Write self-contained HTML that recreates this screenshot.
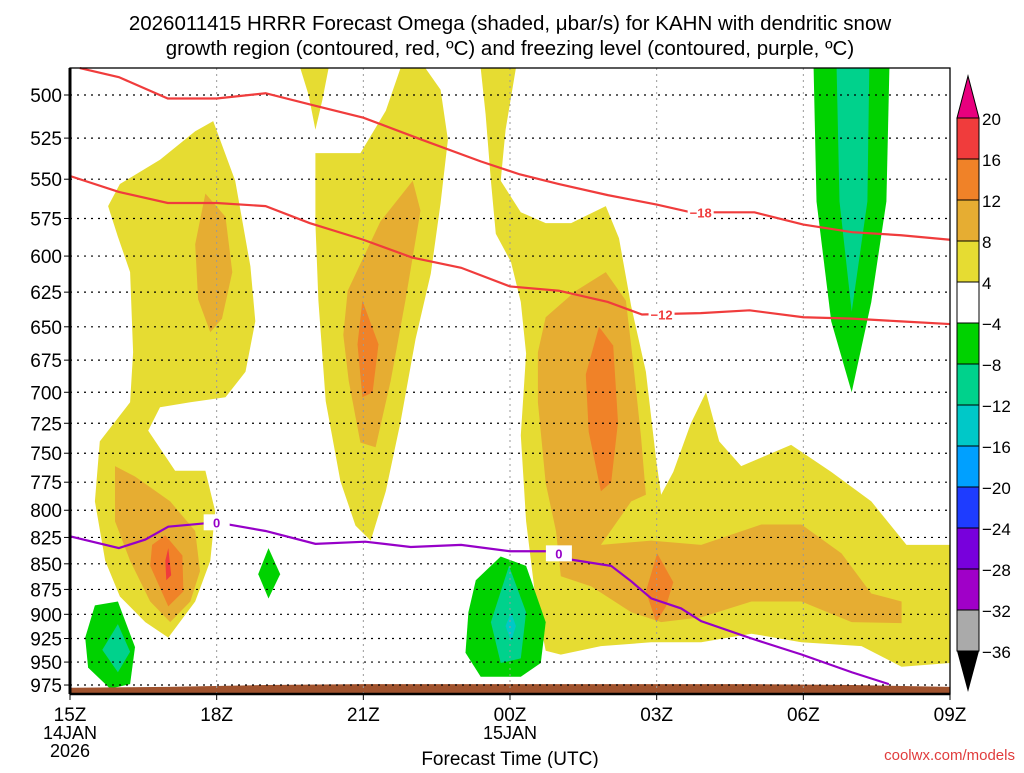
<!DOCTYPE html>
<html><head><meta charset="utf-8"><style>
body{margin:0;background:#fff;}
svg text{font-family:"Liberation Sans",sans-serif;}
</style></head><body>
<svg id="c" width="1024" height="768" viewBox="0 0 1024 768" xmlns="http://www.w3.org/2000/svg">
<text x="510" y="30" font-size="20.5" text-anchor="middle">2026011415 HRRR Forecast Omega (shaded, μbar/s) for KAHN with dendritic snow</text>
<text x="510" y="55" font-size="20.5" text-anchor="middle">growth region (contoured, red, ºC) and freezing level (contoured, purple, ºC)</text>
<g id="fills"></g>
<g id="grid"></g>
<g id="lines"></g>
<g id="axes"></g>
<g id="cbar"></g>
<text x="510" y="765" font-size="19" text-anchor="middle">Forecast Time (UTC)</text>
<text x="1015" y="760" font-size="15" fill="#e03c3c" text-anchor="end">coolwx.com/models</text>
</svg>
<script>
const pressureTicks=[500,525,550,575,600,625,650,675,700,725,750,775,800,825,850,875,900,925,950,975];
const hourTicks=[0,3,6,9,12,15,18];
const hourLabels=["15Z","18Z","21Z","00Z","03Z","06Z","09Z"];
const cbarLabels=["20","16","12","8","4","−4","−8","−12","−16","−20","−24","−28","−32","−36"];
const cbarColors=["#f03c3c","#f08228","#e6ad32","#e6dc32","#ffffff","#00d200","#00d28c","#00c8c8","#00a0ff","#1e3cff","#7800dc","#a000c8","#aaaaaa"];
const yellowLeft=[[2.93,515],[3.38,551],[3.69,607],[3.79,646],[3.59,684],[3.18,704],[2.46,708],[1.84,712],[1.6,731],[2.15,765],[2.77,765],[2.97,801],[2.87,847],[2.56,887],[2.01,924],[1.54,908],[1.02,882],[0.72,847],[0.51,792],[0.61,740],[1.23,708],[1.29,669],[1.23,611],[0.98,587],[0.78,567],[1.02,553],[1.84,538],[2.56,521]];
const yellowMid=[[5.02,534],[5.94,534],[6.46,509],[6.76,485],[7.27,485],[7.58,497],[7.73,526],[7.58,565],[7.38,612],[7.07,659],[6.76,724],[6.46,783],[6.15,828],[5.84,814],[5.53,774],[5.23,707],[5.08,631],[5.02,578]];
const yellowSpike=[[4.71,485],[5.29,485],[5.16,503],[5.02,520],[4.88,500]];
const yellowRight=[[8.4,485],[9.12,485],[8.91,520],[8.81,551],[9.22,571],[9.73,578],[10.25,578],[10.96,567],[11.23,588],[11.48,635],[11.78,684],[11.99,756],[12.09,786],[12.34,766],[12.7,725],[13.01,700],[13.28,740],[13.73,761],[14.75,743],[15.57,766],[16.39,792],[17.11,832],[18,832],[18,951],[17.01,955],[16.19,933],[14.96,929],[13.94,920],[12.91,929],[11.89,929],[10.86,933],[10.04,942],[9.73,938],[9.53,887],[9.33,810],[9.22,735],[9.33,670],[9.22,632],[9.02,604],[8.71,585],[8.61,551],[8.5,511]];
const goldLeftUp=[[2.77,559],[3.18,574],[3.32,611],[3.11,644],[2.87,654],[2.62,630],[2.56,592]];
const goldLeftLow=[[0.92,761],[1.33,770],[2.05,792],[2.56,819],[2.66,857],[2.46,887],[2.05,908],[1.64,887],[1.23,847],[0.92,810]];
const goldMid=[[5.68,624],[6.35,577],[7.01,551],[7.17,570],[6.86,631],[6.56,691],[6.25,745],[5.94,741],[5.7,691],[5.59,656]];
const goldRight=[[9.73,643],[10.35,624],[10.96,611],[11.37,631],[11.52,677],[11.68,736],[11.78,786],[11.48,792],[10.86,832],[11.89,828],[12.91,832],[14.14,813],[14.96,813],[15.78,840],[16.39,879],[17.01,887],[17.01,909],[15.99,908],[14.96,887],[13.94,887],[12.91,903],[12.09,908],[11.48,898],[10.66,872],[10.04,862],[9.94,819],[9.73,776],[9.57,708],[9.57,669]];
const orangeLeft=[[1.95,823],[2.3,842],[2.32,877],[2.01,892],[1.64,852],[1.68,832]];
const orangeMid=[[5.98,631],[6.31,663],[6.19,700],[5.98,704],[5.88,663]];
const orangeRight=[[10.82,650],[11.11,664],[11.21,724],[11.07,775],[10.86,783],[10.61,732],[10.55,686]];
const orangeRight2=[[12.01,840],[12.34,868],[12.19,892],[11.99,908],[11.78,877]];
const redLeft=[[2.01,835],[2.07,861],[1.97,866],[1.95,847]];
const greenLeft=[[0.51,891],[0.98,887],[1.33,934],[1.23,974],[0.82,979],[0.37,956],[0.31,924]];
const tealLeft=[[0.98,910],[1.23,939],[0.98,961],[0.66,937]];
const greenDiamond=[[4.06,835],[4.3,860],[4.06,884],[3.85,860]];
const greenMid=[[8.3,866],[8.81,843],[9.33,852],[9.73,908],[9.63,951],[9.22,966],[8.4,966],[8.09,940],[8.15,898]];
const tealMid=[[8.98,852],[9.33,898],[9.22,946],[8.81,951],[8.61,908]];
const blueMid=[[9.02,898],[9.12,912],[9.02,928],[8.91,912]];
const greenTop=[[15.21,485],[16.76,485],[16.7,564],[16.39,632],[15.99,700],[15.57,646],[15.27,564]];
const tealTop=[[15.68,485],[16.35,485],[16.31,564],[15.99,639],[15.74,564]];
const dgzTopHours=[0.2,1,2,3,4,5,6,7.2,8.4,9.2,10,11,12,12.7,14,15,16,17,18];
const dgzTopP=[485,490,502,502,499,506,513,526,539,547,553,560,566,571,571,579,584,586,589];
const dgzBotHours=[0,1,2,3,4,4.9,6,7,8,9,10,11,11.7,12.9,13.9,15,16,17,18];
const dgzBotP=[548,558,565,565,567,578,589,601,608,621,624,632,641,640,638,643,644,646,648];
const frzHours=[0,1,1.54,2.01,2.99,4,5.02,6.04,6.97,8,9,9.74,10.25,11.07,11.48,11.89,12.5,12.91,13.94,14.97,15.99,16.75];
const frzP=[824,835,827,815,811,819,831,829,834,832,838,838,846,852,867,884,894,907,925,942,961,974];
const surfHours=[0,2,4,6,8,10,12,14,16,18];
const surfP=[978,977,975,974,974,974,974,974,975,977];

const X0=70,X1=950,Y0=68,Y1=694;
const x=h=>X0+h*(X1-X0)/18;
const y=p=>95+883.5*Math.log(p/500);
const NS="http://www.w3.org/2000/svg";
function mk(tag,parent,attrs){const e=document.createElementNS(NS,tag);for(const k in attrs)e.setAttribute(k,attrs[k]);document.getElementById(parent).appendChild(e);return e;}
function poly(arr,col,name){const e=mk('polygon','fills',{points:arr.map(d=>x(d[0]).toFixed(1)+','+y(d[1]).toFixed(1)).join(' '),fill:col});

}
poly(yellowLeft,'#e6dc32','omega-4-8-left');poly(yellowMid,'#e6dc32','omega-4-8-mid');poly(yellowSpike,'#e6dc32','omega-4-8-spike');poly(yellowRight,'#e6dc32','omega-4-8-right');
poly(goldLeftUp,'#e6ad32','omega-8-12-left-upper');poly(goldLeftLow,'#e6ad32','omega-8-12-left-lower');poly(goldMid,'#e6ad32','omega-8-12-mid');poly(goldRight,'#e6ad32','omega-8-12-right');
poly(orangeLeft,'#f08228','omega-12-16-left');poly(orangeMid,'#f08228','omega-12-16-mid');poly(orangeRight,'#f08228','omega-12-16-right');poly(orangeRight2,'#f08228','omega-12-16-right-low');
poly(redLeft,'#f03c3c','omega-16-20-left');
poly(greenLeft,'#00d200','omega-neg4-8-left');poly(tealLeft,'#00d28c','omega-neg8-12-left');poly(greenDiamond,'#00d200','omega-neg4-8-diamond');
poly(greenMid,'#00d200','omega-neg4-8-mid');poly(tealMid,'#00d28c','omega-neg8-12-mid');poly(blueMid,'#00c8c8','omega-neg12-16-mid');
poly(greenTop,'#00d200','omega-neg4-8-top');poly(tealTop,'#00d28c','omega-neg8-12-top');
let tp=surfHours.map((h,i)=>x(h)+','+y(surfP[i])).join(' ')+' '+X1+','+Y1+' '+X0+','+Y1;
const terr=mk('polygon','fills',{points:tp,fill:'#a0522d'});


pressureTicks.forEach(p=>{const l=mk('line','grid',{x1:X0,x2:X1,y1:y(p),y2:y(p),stroke:'#000','stroke-dasharray':'2,5','stroke-width':1.2});

});
hourTicks.slice(1,-1).forEach(h=>{const l=mk('line','grid',{x1:x(h),x2:x(h),y1:Y0,y2:Y1,stroke:'#999','stroke-dasharray':'2,4','stroke-width':1});

});
function pl(hs,ps,col,name){const e=mk('polyline','lines',{points:hs.map((h,i)=>x(h)+','+y(ps[i])).join(' '),fill:'none',stroke:col,'stroke-width':2.2});

}
pl(dgzTopHours,dgzTopP,'#f03c3c','dgz-minus18-contour');
pl(dgzBotHours,dgzBotP,'#f03c3c','dgz-minus12-contour');
pl(frzHours,frzP,'#9600c8','freezing-level-contour');
function lab(h,p,t,col,name){const r=mk('rect','lines',{x:x(h)-13,y:y(p)-8,width:26,height:16,fill:'#fff'});


const e=mk('text','lines',{x:x(h),y:y(p)+5,'font-size':13,'font-weight':'bold',fill:col,'text-anchor':'middle'});e.textContent=t;

}
lab(12.9,571,'−18','#f03c3c','label-minus18');lab(12.1,641,'−12','#f03c3c','label-minus12');
lab(3.0,811,'0','#9600c8','label-freezing-0a');lab(10.0,840,'0','#9600c8','label-freezing-0b');
const fr=mk('rect','axes',{x:X0,y:Y0,width:X1-X0,height:Y1-Y0,fill:'none',stroke:'#000','stroke-width':1.3});


mk('line','axes',{x1:X0,x2:X0,y1:Y0,y2:Y1,stroke:'#000','stroke-width':3});
mk('line','axes',{x1:X0,x2:X1,y1:Y1,y2:Y1,stroke:'#000','stroke-width':2.5});
pressureTicks.forEach(p=>{mk('line','axes',{x1:X0-6,x2:X0,y1:y(p),y2:y(p),stroke:'#000'});
const t=mk('text','axes',{x:X0-8,y:y(p)+7,'font-size':19,'text-anchor':'end'});t.textContent=p;

});
hourTicks.forEach((h,i)=>{mk('line','axes',{x1:x(h),x2:x(h),y1:Y1,y2:Y1+6,stroke:'#000'});
const t=mk('text','axes',{x:x(h),y:721,'font-size':19,'text-anchor':'middle'});t.textContent=hourLabels[i];

});
[['14JAN',739,0],['2026',757,0],['15JAN',739,9]].forEach(a=>{const t=mk('text','axes',{x:x(a[2]),y:a[1],'font-size':18,'text-anchor':'middle'});t.textContent=a[0];

});
const CB0=957,CB1=979,CT=118,CS=41;
cbarColors.forEach((c,i)=>{const r=mk('rect','cbar',{x:CB0,y:CT+i*CS,width:CB1-CB0,height:CS,fill:c,stroke:'#000','stroke-width':1});

});
const up=mk('polygon','cbar',{points:`${CB0},${CT} ${CB1},${CT} ${(CB0+CB1)/2},76`,fill:'#e8007e',stroke:'#000'});


const bt=CT+13*CS;
const dn=mk('polygon','cbar',{points:`${CB0},${bt} ${CB1},${bt} ${(CB0+CB1)/2},692`,fill:'#000'});


cbarLabels.forEach((l,i)=>{const t=mk('text','cbar',{x:982,y:CT+i*CS+7,'font-size':17});t.textContent=l;

});
</script>
</body></html>
